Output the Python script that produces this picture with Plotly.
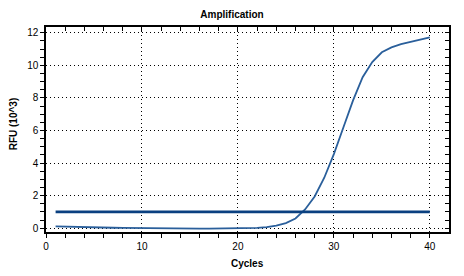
import plotly.graph_objects as go

cycles = list(range(1, 41))
rfu = [0.11, 0.09, 0.07, 0.06, 0.05, 0.04, 0.03, 0.02, 0.01, 0.0,
       -0.01, -0.01, -0.02, -0.02, -0.02, -0.02, -0.02, -0.02, -0.02, -0.02,
       -0.01, 0.02, 0.07, 0.16, 0.32, 0.6, 1.15, 1.95, 3.1, 4.55,
       6.2, 7.85, 9.27, 10.2, 10.8, 11.1, 11.3, 11.45, 11.6, 11.72]
threshold_x = [1, 40]
threshold_y = [1.0, 1.0]

font = "Liberation Sans, Arial, sans-serif"
minor_x = [2, 4, 6, 8, 12, 14, 16, 18, 22, 24, 26, 28, 32, 34, 36, 38]

fig = go.Figure()
fig.add_trace(go.Scatter(x=cycles, y=rfu, mode="lines",
                         line=dict(color="#2a5f9b", width=1.8), showlegend=False))
fig.add_trace(go.Scatter(x=threshold_x, y=threshold_y, mode="lines",
                         line=dict(color="#0a4080", width=2.8), showlegend=False))
fig.add_trace(go.Scatter(x=[0], y=[0], xaxis="x2", yaxis="y2", mode="none",
                         showlegend=False, hoverinfo="skip"))

fig.update_layout(
    width=464, height=276,
    margin=dict(l=46, r=15, t=27, b=44, autoexpand=False),
    paper_bgcolor="white", plot_bgcolor="white",
    font=dict(family=font, size=10, color="black"),
    title=dict(text="<b>Amplification</b>", x=0.5, xref="container",
               y=0.9457, yref="container", yanchor="middle", xanchor="center",
               font=dict(family=font, size=10, color="black")),
    xaxis=dict(range=[0, 42], tickvals=[0, 10, 20, 30, 40], ticks="outside",
               ticklen=4, tickcolor="black", showline=True, linecolor="black",
               linewidth=1.5, showgrid=True, gridcolor="black", griddash="1px,3px",
               gridwidth=1, zeroline=False, automargin=False,
               minor=dict(tickvals=minor_x, ticks="outside", ticklen=4,
                          tickcolor="black", showgrid=False)),
    yaxis=dict(range=[-0.23, 12.35], tickvals=[0, 2, 4, 6, 8, 10, 12],
               ticks="outside", ticklen=4, tickcolor="black", showline=True,
               linecolor="black", linewidth=1.5, showgrid=True,
               gridcolor="black", griddash="1px,3px", gridwidth=1,
               zeroline=False, automargin=False,
               minor=dict(dtick=0.5, tick0=0, ticks="outside", ticklen=4,
                          tickcolor="black", showgrid=False)),
    xaxis2=dict(range=[0, 42], overlaying="x", side="top", anchor="y",
                tickvals=[10, 20, 30, 40], ticks="inside", ticklen=4,
                tickcolor="black", showticklabels=False, showline=True,
                linecolor="black", linewidth=2, showgrid=False, zeroline=False,
                automargin=False,
                minor=dict(tickvals=minor_x, ticks="inside", ticklen=4,
                           tickcolor="black")),
    yaxis2=dict(range=[-0.23, 12.35], overlaying="y", side="right", anchor="x",
                tickvals=[0, 2, 4, 6, 8, 10, 12], ticks="inside", ticklen=4,
                tickcolor="black", showticklabels=False, showline=True,
                linecolor="black", linewidth=2, showgrid=False, zeroline=False,
                automargin=False,
                minor=dict(dtick=0.5, tick0=0, ticks="inside", ticklen=4,
                           tickcolor="black")),
    annotations=[
        dict(text="<b>RFU (10^3)</b>", xref="paper", yref="paper",
             x=-0.082, y=0.53, xanchor="center", yanchor="middle",
             textangle=-90, showarrow=False,
             font=dict(family=font, size=10, color="black")),
        dict(text="<b>Cycles</b>", xref="paper", yref="paper",
             x=0.5, y=-0.156, xanchor="center", yanchor="middle",
             showarrow=False, font=dict(family=font, size=10, color="black")),
    ],
)

fig.write_html("out.html")
